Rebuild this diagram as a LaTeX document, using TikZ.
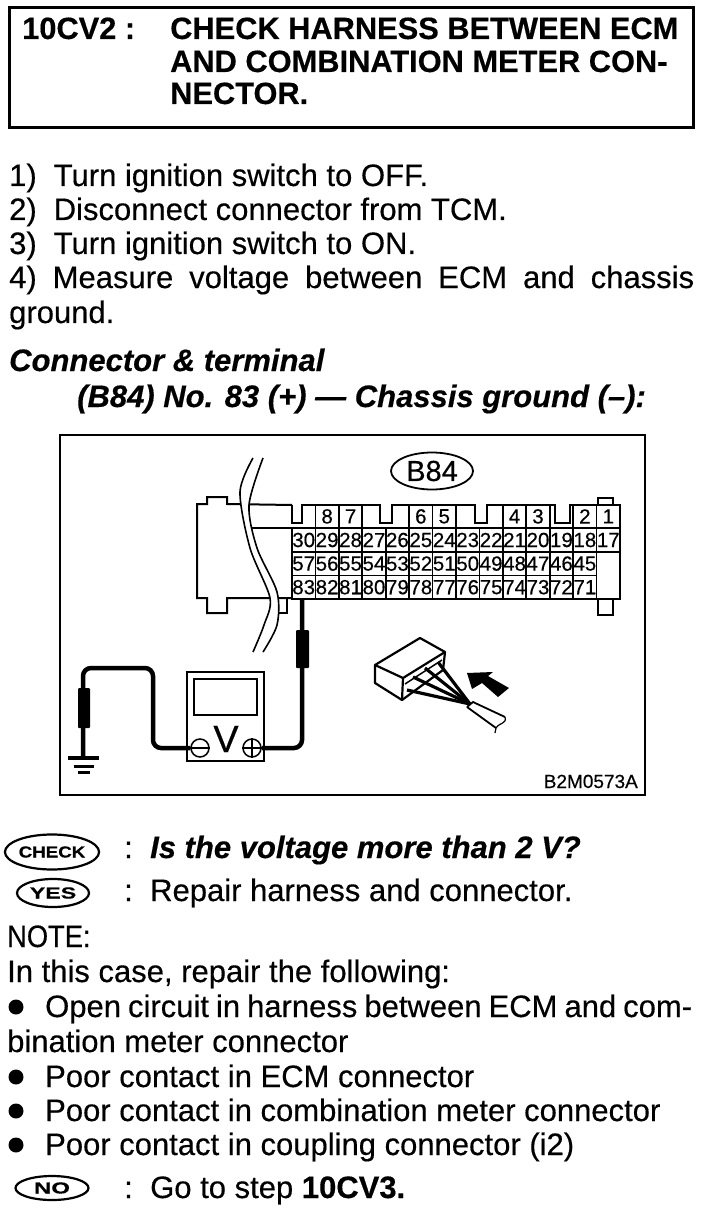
\documentclass[tikz,border=0pt]{standalone}
\usepackage{fontspec}
\setmainfont[FakeBold=0.4]{Liberation Sans}
\usetikzlibrary{shapes.geometric}
\tikzset{
  textline/.style={anchor=base west,inner sep=0pt,font=\fontsize{31}{34}\selectfont},
  headline/.style={anchor=base west,inner sep=0pt,font=\fontsize{30.8}{34}\selectfont\bfseries},
  boldline/.style={anchor=base west,inner sep=0pt,font=\fontsize{31}{34}\selectfont\bfseries\itshape},
  badge/.style={ellipse,draw,line width=2.2pt,inner sep=0pt,font=\fontsize{16}{16}\selectfont\bfseries},
  dotmark/.style={circle,fill=black,inner sep=0pt,minimum size=15pt},
  termcell/.style={draw,line width=1.8pt,inner sep=0pt,outer sep=0pt,minimum width=23.43pt,minimum height=23.6pt,font=\fontsize{20.5}{20}\selectfont},
  wire/.style={line width=4.5pt,rounded corners=8pt},
  probe/.style={fill=black,inner sep=0pt,rounded corners=1pt},
  term/.style={circle,draw,line width=1.5pt,inner sep=0pt,minimum size=18pt}
}
\begin{document}
\begin{tikzpicture}[x=1pt,y=-1pt]
   \useasboundingbox (0,0) rectangle (704,1214);
   % Heading
   \node[draw,line width=3pt,inner sep=0pt,minimum width=684pt,minimum height=120pt] (headbox) at (351,68) {};
   \node[headline] (hcode) at (22,39) {10CV2 :};
   \node[headline] (hone) at (170,39) {CHECK HARNESS BETWEEN ECM};
   \node[headline] (htwo) at (170,72) {AND COMBINATION METER CON-};
   \node[headline] (hthree) at (170,104) {NECTOR.};
   % Steps
   \node[textline] (sone) at (9,186) {1)\hspace{17pt}Turn ignition switch to OFF.};
   \node[textline] (stwo) at (9,220) {2)\hspace{17pt}Disconnect connector from TCM.};
   \node[textline] (sthree) at (9,254) {3)\hspace{17pt}Turn ignition switch to ON.};
   \node[textline] (sfour) at (9,288) {\makebox[685pt][s]{4) Measure voltage between ECM and chassis}};
   \node[textline] (sfive) at (9,323) {ground.};
   \node[boldline] (conna) at (9,371) {Connector \& terminal};
   \node[boldline] (connb) at (77,407) {(B84) No. 83 (+) — Chassis ground (–):};
   % Frame
   \node[draw,line width=2.5pt,inner sep=0pt,minimum width=585pt,minimum height=360pt] (frame) at (352.5,615) {};
   \node[ellipse,draw,line width=1.8pt,inner sep=0pt,minimum width=82pt,minimum height=37pt,font=\fontsize{29}{29}\selectfont] (bname) at (432,471) {B84};
   \node[anchor=base east,inner sep=0pt,font=\fontsize{19}{19}\selectfont] (code) at (638,788) {B2M0573A};
   % Connector housing
   \draw[line width=2pt] (292,505) -- (227,504) -- (227,497) -- (207,497) -- (207,504) -- (197,504)
     -- (197,598) -- (207,598) -- (207,613) -- (227,613) -- (227,598) -- (292,598);
   \draw[line width=2pt] (250,528) -- (292,528);
   \draw[line width=2pt] (277,598) -- (277,613) -- (287,613) -- (287,598);
   \draw[line width=2pt] (292,505) -- (292,523) -- (302,523) -- (302,505) -- (380,505) -- (380,523)
     -- (392,523) -- (392,505) -- (475,505) -- (475,523) -- (487,523) -- (487,505) -- (555,505)
     -- (555,523) -- (570,523) -- (570,505) -- (598,505) -- (598,498) -- (613,498) -- (613,505) -- (620,505) -- (620,598);
   \draw[line width=2pt] (598,598) -- (598,615) -- (613,615) -- (613,598);
   % Terminals
   \foreach \n [count=\i from 0] in {30,29,...,17}
     \node[termcell] (t\n) at (303.7+23.43*\i,540) {\n};
   \foreach \n [count=\i from 0] in {57,56,...,45}
     \node[termcell] (t\n) at (303.7+23.43*\i,563.6) {\n};
   \foreach \n [count=\i from 0] in {83,82,...,71}
     \node[termcell] (t\n) at (303.7+23.43*\i,587.2) {\n};
   \draw[line width=1.8pt] (t45.north east) rectangle (t17.east |- t71.south);
   \foreach \n/\c in {8/29,7/28,6/25,5/24,4/21,3/20,2/18,1/17}
     \node[termcell,anchor=south] (u\n) at (t\c.north) {\n};
   % Break
   \fill[white] plot[smooth] coordinates {(253,458) (240,492) (250,548) (270,598) (264,625) (253,652)}
     -- plot[smooth] coordinates {(263,652) (277,625) (277,592) (257,548) (249,505) (263,458)} -- cycle;
   \draw[line width=1.6pt] plot[smooth] coordinates {(253,458) (240,492) (250,548) (270,598) (264,625) (253,652)};
   \draw[line width=1.6pt] plot[smooth] coordinates {(263,458) (249,505) (257,548) (277,592) (277,625) (263,652)};
   % Voltmeter
   \node[draw,line width=2pt,inner sep=0pt,minimum width=77pt,minimum height=89pt] (meter) at (225.5,716.5) {};
   \node[draw,line width=2pt,inner sep=0pt,minimum width=63pt,minimum height=36pt] (screen) at (225.5,697) {};
   \node[anchor=base,inner sep=0pt,font=\fontsize{38}{38}\selectfont] (vsign) at (226,752) {V};
   \node[term] (minus) at (200,748) {};
   \node[term] (plus) at (252,748) {};
   \draw[line width=1.5pt] (minus.west) -- (minus.east);
   \draw[line width=1.5pt] (plus.west) -- (plus.east) (plus.north) -- (plus.south);
   % Leads
   \coordinate (pin) at (302,598);
   \coordinate (gnd) at (83,758);
   \draw[wire] (pin) -- (pin |- plus) -- (plus.east);
   \draw[wire] (minus.west) -- (153,748) -- (153,668) -- (83,668) -- (gnd);
   \node[probe,minimum width=13pt,minimum height=38pt] (proberight) at (302.5,649) {};
   \node[probe,minimum width=12pt,minimum height=40pt] (probeleft) at (84,708) {};
   % Ground
   \draw[line width=4pt] (68,758) -- (99,758);
   \draw[line width=3pt] (74,766) -- (94,766);
   \draw[line width=3pt] (78,772) -- (90,772);
   % Small connector
   \draw[line width=2.2pt,line join=round] (375,665) -- (420,638) -- (445,652) -- (443,670) -- (402,700) -- (375,683) -- cycle;
   \draw[line width=2.2pt] (375,665) -- (403,678) -- (445,652);
   \draw[line width=2.2pt] (403,678) -- (402,700);
   \foreach \x/\y in {438/662,425/668,413/677,407/690}
     \draw[line width=3.2pt] (\x,\y) -- (470,704);
   \draw[line width=1.5pt] (405,684) -- (442,660);
   \draw[line width=1.8pt] (467,707) -- (473,702) -- (505,717) (467,707) -- (496,728);
   \draw[line width=1.2pt] (505,717) .. controls (507,724) and (500,722) .. (496,728) -- (495,733);
   \fill (467,673) -- (493,672) -- (488,676) -- (509,688) -- (498,697) -- (482,683) -- (472,689) -- cycle;
   % Answer
   \node[badge,minimum width=92pt,minimum height=35pt] (bcheck) at (52,852) {\scalebox{1.17}[1]{CHECK}};
   \node[textline] (ccheck) at (124,858) {:};
   \node[boldline] (qcheck) at (150,858) {Is the voltage more than 2 V?};
   \node[badge,minimum width=72pt,minimum height=28pt] (byes) at (53,893) {\scalebox{1.45}[1]{YES}};
   \node[textline] (cyes) at (124,901) {:};
   \node[textline] (ryes) at (150,901) {Repair harness and connector.};
   \node[textline] (note) at (7,947) {\scalebox{0.88}[1]{NOTE:}};
   \node[textline] (case) at (7,982) {In this case, repair the following:};
   \node[dotmark] (dotone) at (16,1007) {};
   \node[textline] (lone) at (45,1017) {\makebox[647pt][s]{Open circuit in harness between ECM and com-}};
   \node[textline] (ltwo) at (7,1052) {bination meter connector};
   \node[dotmark] (dottwo) at (16,1077) {};
   \node[textline] (lthree) at (45,1087) {Poor contact in ECM connector};
   \node[dotmark] (dotthree) at (16,1111) {};
   \node[textline] (lfour) at (45,1121) {Poor contact in combination meter connector};
   \node[dotmark] (dotfour) at (16,1145) {};
   \node[textline] (lfive) at (45,1155) {Poor contact in coupling connector (i2)};
   \node[badge,minimum width=73pt,minimum height=24pt] (bno) at (52,1188) {\scalebox{1.5}[1]{NO}};
   \node[textline] (cno) at (124,1198) {:};
   \node[textline] (gono) at (150,1198) {Go to step \textbf{10CV3.}};
\end{tikzpicture}
\end{document}
